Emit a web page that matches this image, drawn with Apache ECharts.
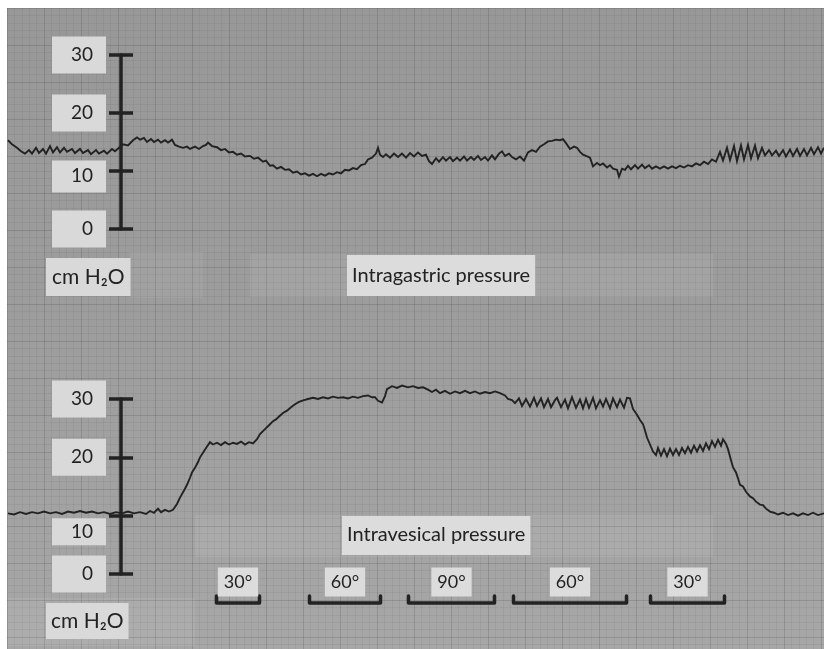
<!DOCTYPE html>
<html><head><meta charset="utf-8">
<script src="https://cdn.jsdelivr.net/npm/echarts@6/dist/echarts.min.js"></script>
<style>html,body{margin:0;padding:0;background:#fff}#c{width:824px;height:649px}</style>
</head><body><div id="c"></div>
<script>
// pressure values (cm H2O) read from the recording; time axis in chart-paper units
const yTicks = [0, 10, 20, 30];
const intragastric = [
[8,15.3],[12,14.6],[17,14.0],[21,13.4],[25,13.0],[29,13.6],[32,13.0],[36,14.0],[39,13.1],[43,13.8],
[46,13.0],[50,14.3],[53,13.2],[57,14.1],[60,13.2],[64,14.0],[67,13.3],[72,13.8],[75,13.1],[80,13.8],
[83,13.1],[88,13.6],[91,12.9],[96,13.6],[99,13.0],[104,13.5],[107,13.0],[112,13.8],[115,13.4],[119,14.0],
[123,14.6],[128,14.4],[133,15.3],[137,15.8],[140,15.4],[144,15.7],[147,15.0],[151,15.5],[154,15.0],[158,15.4],
[161,14.9],[165,15.3],[168,14.9],[172,15.4],[175,14.5],[179,14.2],[183,14.0],[187,14.2],[190,13.8],[195,14.2],
[199,13.8],[203,14.3],[206,14.5],[208,14.9],[212,14.3],[217,14.1],[221,13.6],[225,13.8],[229,13.2],[233,13.3],
[237,12.8],[241,13.0],[245,12.5],[250,12.6],[254,12.1],[258,12.3],[263,11.6],[266,11.8],[270,10.9],[273,11.0],
[277,10.4],[281,10.7],[285,10.2],[289,10.3],[293,9.7],[297,9.9],[301,9.4],[305,9.6],[309,9.2],[313,9.5],
[317,9.1],[321,9.5],[325,9.2],[329,9.6],[333,9.4],[337,9.8],[341,9.6],[345,10.2],[349,10.1],[353,10.5],
[357,10.3],[361,11.0],[365,11.2],[368,12.0],[372,12.3],[376,13.0],[378,14.0],[380,12.8],[383,12.4],[386,12.9],
[390,12.3],[394,13.0],[398,12.4],[402,13.0],[406,12.3],[410,13.1],[414,12.5],[418,13.2],[422,12.6],[426,12.8],
[429,11.7],[432,11.2],[436,12.2],[439,11.6],[443,12.4],[446,11.8],[450,12.4],[453,11.7],[457,12.3],[460,11.8],
[464,12.5],[467,11.8],[471,12.4],[474,11.9],[478,12.6],[481,11.9],[485,12.4],[488,11.8],[492,12.7],[495,12.0],
[499,13.0],[502,13.4],[505,12.6],[509,13.0],[512,12.4],[516,12.0],[520,12.5],[524,11.8],[528,13.2],[532,13.6],
[536,13.3],[540,14.2],[544,14.6],[548,15.1],[552,15.2],[556,15.4],[560,15.3],[563,15.5],[566,14.8],[570,13.8],
[574,14.2],[577,14.0],[580,13.3],[583,12.8],[586,12.6],[590,12.3],[593,10.8],[597,11.4],[600,11.0],[603,11.3],
[607,10.6],[610,11.0],[613,10.4],[617,10.2],[619,9.0],[622,10.4],[625,10.2],[628,10.9],[631,10.3],[635,11.0],
[638,10.4],[642,11.1],[645,10.5],[649,11.0],[652,10.4],[656,10.8],[660,10.4],[664,10.8],[668,10.4],[672,10.8],
[676,10.5],[680,10.9],[684,10.6],[688,11.0],[692,10.8],[696,11.3],[700,11.0],[704,11.6],[708,11.2],[712,12.0],
[716,11.6],[720,13.3],[723,11.8],[727,14.0],[730,11.9],[734,14.3],[737,11.7],[741,14.4],[744,12.0],[748,14.5],
[751,12.2],[755,14.4],[758,12.2],[762,14.0],[765,12.7],[769,13.6],[772,12.7],[776,13.5],[779,12.6],[783,13.6],
[786,12.5],[790,13.7],[793,12.6],[797,13.8],[800,12.6],[804,13.8],[807,12.7],[811,14.0],[814,12.9],[818,14.1],
[821,13.0],[824,14.0]
];
const intravesical = [
[8,10.4],[14,10.2],[20,10.6],[26,10.3],[32,10.6],[38,10.4],[44,10.7],[50,10.4],[56,10.6],[62,10.3],
[68,10.7],[74,10.5],[80,10.8],[86,10.5],[92,10.7],[98,10.4],[104,10.6],[110,10.3],[116,10.6],[122,10.4],
[128,10.7],[134,10.4],[140,10.6],[146,10.3],[150,10.8],[154,10.5],[158,11.2],[161,10.6],[165,11.0],[169,10.7],
[173,11.0],[177,12.0],[180,13.1],[184,14.3],[187,15.3],[190,16.5],[192,17.4],[195,18.2],[198,19.2],[200,20.0],
[203,20.8],[206,21.6],[210,22.6],[213,22.2],[217,22.5],[221,22.1],[225,22.6],[229,22.2],[233,22.5],[237,22.3],
[241,22.7],[245,22.2],[249,22.6],[253,22.4],[257,23.1],[260,24.0],[263,24.5],[266,25.0],[269,25.5],[273,26.2],
[276,26.5],[279,27.0],[283,27.6],[287,28.0],[291,28.6],[295,29.1],[299,29.5],[304,29.8],[308,30.0],[313,30.2],
[318,30.0],[323,30.3],[328,30.1],[333,30.4],[338,30.2],[343,30.3],[348,30.1],[353,30.4],[358,30.2],[363,30.5],
[368,30.6],[372,30.3],[375,30.3],[378,29.7],[382,29.4],[385,30.5],[387,31.7],[392,32.2],[397,31.9],[402,32.3],
[408,32.0],[413,32.2],[418,31.9],[423,32.0],[428,31.6],[432,31.2],[436,31.6],[440,31.0],[445,31.4],[450,30.9],
[455,31.3],[460,31.0],[465,31.4],[470,31.0],[475,31.3],[480,30.9],[485,31.2],[490,31.0],[495,31.3],[500,31.0],
[505,30.6],[508,30.0],[512,29.8],[515,29.3],[519,30.1],[522,28.8],[526,30.0],[530,28.7],[534,30.2],[537,28.8],
[541,30.1],[544,28.6],[548,30.0],[551,28.6],[555,29.8],[557,30.2],[561,28.6],[565,29.9],[568,28.4],[572,30.3],
[576,28.5],[580,29.9],[583,28.4],[586,30.0],[589,28.5],[593,30.2],[596,28.4],[600,29.8],[603,28.7],[606,30.0],
[610,28.4],[613,30.1],[617,28.6],[620,29.9],[624,28.5],[627,30.2],[630,30.1],[633,28.3],[637,27.3],[640,26.4],
[643,25.7],[645,24.6],[647,23.4],[650,22.2],[653,21.0],[656,20.4],[658,21.6],[661,20.3],[664,21.4],[667,20.2],
[670,21.5],[673,20.4],[676,21.4],[679,20.4],[682,21.6],[685,20.7],[688,21.8],[691,20.8],[694,22.0],[697,21.0],
[700,22.1],[703,21.1],[706,22.4],[709,21.4],[712,22.8],[715,21.8],[718,23.0],[721,22.0],[723,23.1],[726,22.3],
[728,21.4],[731,19.5],[733,18.3],[736,17.4],[738,16.4],[740,15.3],[743,15.0],[746,14.1],[748,13.9],[750,13.3],
[753,13.0],[756,12.4],[760,11.9],[763,11.8],[766,11.2],[770,10.7],[774,10.5],[778,10.2],[783,10.5],[788,10.1],
[793,10.4],[798,10.0],[803,10.4],[808,10.1],[813,10.5],[818,10.1],[824,10.4]
];
const tiltStart = [215, 308, 407, 512, 649];
const tiltEnd = [261, 382, 496, 628, 726];
const tiltLabels = ['30°', '60°', '90°', '60°', '30°'];

const FONT = 'Lato, "Open Sans", sans-serif';
const INK = '#222222';
const BOX = '#d9d9d9';

function scaleAxis(gi, spacer, tenPad) {
  return [{
    gridIndex: gi, type: 'value', position: 'left', min: yTicks[0], max: yTicks[yTicks.length - 1], interval: 10,
    offset: -113,
    axisLine: { show: true, onZero: false, lineStyle: { color: INK, width: 3.5 } },
    axisTick: { show: true, length: 12, lineStyle: { color: INK, width: 3.5 } },
    splitLine: { show: false },
    axisLabel: {
      margin: 15,
      formatter: v => v === 10 ? '{sp| }\n{t|10}' : '{b|' + v + '}',
      rich: {
        b: { backgroundColor: BOX, width: 32, align: 'right', padding: [9, 13, 9, 9], fontSize: 19, lineHeight: 20, color: INK, fontFamily: FONT },
        t: { backgroundColor: BOX, width: 32, align: 'right', padding: tenPad, fontSize: 19, lineHeight: 20, color: INK, fontFamily: FONT },
        sp: { height: spacer, lineHeight: spacer, fontSize: 6 }
      }
    }
  }, {
    gridIndex: gi, type: 'value', position: 'left', min: yTicks[0], max: yTicks[yTicks.length - 1], interval: 10,
    offset: -113,
    axisLine: { show: false, onZero: false },
    axisTick: { show: true, inside: true, length: 12, lineStyle: { color: INK, width: 3.5 } },
    axisLabel: { show: false }, splitLine: { show: false }
  }];
}

const chart = echarts.init(document.getElementById('c'), null, { renderer: 'canvas' });
const gridLine = { show: true, lineStyle: { color: 'rgba(30,30,30,0.15)', width: 1 } };
const minorLine = { show: true, lineStyle: { color: 'rgba(30,30,30,0.06)', width: 1 } };
const hidden = { show: false };
const txt = (size) => ({ fontFamily: FONT, fontSize: size, fontWeight: 'normal', color: INK, lineHeight: 22 });

chart.setOption({
  animation: false,
  backgroundColor: '#ffffff',
  grid: [
    { left: 7, top: 8, right: 0, bottom: 0, show: true, borderWidth: 0,
      backgroundColor: new echarts.graphic.LinearGradient(0, 0, 0, 1, [
        { offset: 0, color: '#989898' }, { offset: 0.5, color: '#9d9d9d' }, { offset: 1, color: '#a7a7a7' }]) },
    { left: 8, right: 0, top: 55, height: 174 },
    { left: 8, right: 0, top: 399, height: 175 }
  ],
  xAxis: [
    { gridIndex: 0, type: 'value', min: 0, max: 817, interval: 37, axisLine: hidden, axisTick: hidden, axisLabel: hidden,
      splitLine: gridLine, minorTick: { show: false, splitNumber: 5 }, minorSplitLine: minorLine },
    { gridIndex: 1, type: 'value', min: 8, max: 824, show: false },
    { gridIndex: 2, type: 'value', min: 8, max: 824, show: false }
  ],
  yAxis: [
    { gridIndex: 0, type: 'value', inverse: true, min: 0, max: 641, interval: 37, axisLine: hidden, axisTick: hidden, axisLabel: hidden,
      splitLine: gridLine, minorTick: { show: false, splitNumber: 5 }, minorSplitLine: minorLine },
    ...scaleAxis(1, 11, [6, 13, 7, 9]),
    ...scaleAxis(2, 32, [4, 13, 4, 9])
  ],
  graphic: [
    { type: 'rect', z: 1, silent: true, shape: { x: 250, y: 254, width: 463, height: 43 }, style: { fill: 'rgba(255,255,255,0.08)' } },
    { type: 'rect', z: 1, silent: true, shape: { x: 130, y: 252, width: 73, height: 46 }, style: { fill: 'rgba(255,255,255,0.06)' } },
    { type: 'rect', z: 1, silent: true, shape: { x: 195, y: 515, width: 518, height: 42 }, style: { fill: 'rgba(255,255,255,0.08)' } },
    { type: 'rect', z: 1, silent: true, shape: { x: 8, y: 598, width: 187, height: 48 }, style: { fill: 'rgba(255,255,255,0.07)' } }
  ],
  title: [
    { text: 'cm H₂O', left: 46, top: 258, padding: [8, 6, 8, 6], backgroundColor: BOX, textStyle: txt(21) },
    { text: 'Intragastric pressure', left: 347, top: 255, padding: [10, 5, 9, 5], backgroundColor: '#dcdcdc', textStyle: txt(20) },
    { text: 'cm H₂O', left: 46, top: 603, padding: [7, 5, 7, 5], backgroundColor: BOX, textStyle: txt(21) },
    { text: 'Intravesical pressure', left: 342, top: 516, padding: [8, 5, 9, 5], backgroundColor: '#dcdcdc', textStyle: txt(20) }
  ],
  series: [
    { name: 'Intragastric pressure', type: 'line', xAxisIndex: 1, yAxisIndex: 1, data: intragastric,
      showSymbol: false, clip: false, z: 3, lineStyle: { color: '#222222', width: 1.9, join: 'miter' } },
    { name: 'Intravesical pressure', type: 'line', xAxisIndex: 2, yAxisIndex: 3, data: intravesical,
      showSymbol: false, clip: false, z: 3, lineStyle: { color: '#222222', width: 1.9, join: 'miter' } },
    { name: 'Tilt', type: 'custom', xAxisIndex: 2, yAxisIndex: 3, clip: false, z: 4,
      data: tiltStart.map((s, i) => [s, tiltEnd[i], i]),
      encode: { x: [0, 1], y: 2 },
      renderItem: (params, api) => {
        const a = api.coord([api.value(0), 0]);
        const b = api.coord([api.value(1), 0]);
        const base = a[1];
        const y = base + 29;
        const mid = (a[0] + b[0]) / 2;
        return { type: 'group', children: [
          { type: 'polyline', shape: { points: [[a[0] + 1.5, y - 7], [a[0] + 1.5, y], [b[0] - 1.5, y], [b[0] - 1.5, y - 7]] },
            style: { stroke: INK, lineWidth: 3.5, fill: null, lineJoin: 'round', lineCap: 'round' } },
          { type: 'text', style: { text: tiltLabels[api.value(2)], x: mid, y: base + 8, align: 'center', verticalAlign: 'middle',
            backgroundColor: '#dcdcdc', padding: [4, 6, 4, 6], fontSize: 18, fontFamily: FONT, lineHeight: 21, fill: INK } }
        ] };
      }
    }
  ]
});
</script></body></html>
